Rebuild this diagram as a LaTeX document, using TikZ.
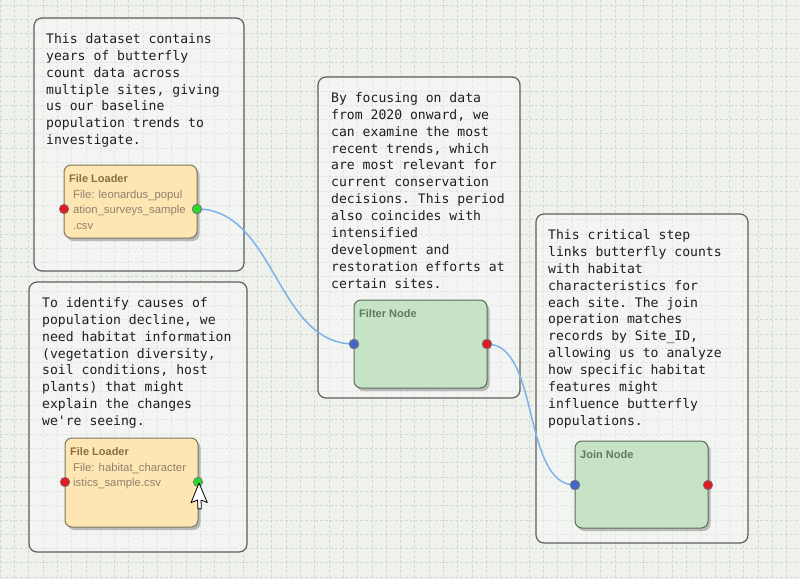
\documentclass[tikz,border=0pt]{standalone}
\usepackage{fontspec}
\setmainfont{Liberation Sans}
\newfontfamily\monof{DejaVu Sans Mono}
\usetikzlibrary{shadows}
\definecolor{bgc}{HTML}{EEF1EC}
\definecolor{gridc}{HTML}{D3D8D3}
\definecolor{loaderfill}{HTML}{FDE6B2}
\definecolor{loaderborder}{HTML}{7E765E}
\definecolor{loadertitle}{HTML}{8A6E45}
\definecolor{loadertext}{HTML}{8F8170}
\definecolor{procfill}{HTML}{C7E3C6}
\definecolor{procborder}{HTML}{5E6A5E}
\definecolor{proctitle}{HTML}{5F7A5E}
\definecolor{wirec}{HTML}{7DB3EA}
\definecolor{portred}{HTML}{E01B24}
\definecolor{portgreen}{HTML}{2ED52E}
\definecolor{portblue}{HTML}{4466C8}
\definecolor{notec}{HTML}{5E5E5E}
\definecolor{notetext}{HTML}{1E1E1E}
\tikzset{
  notebox/.style={draw=notec, line width=1.2pt, rounded corners=8pt, fill=white, fill opacity=0.35},
  notetxt/.style={anchor=north west, align=left, inner sep=0pt, text=notetext,
    font=\monof\fontsize{13.1}{16.95}\selectfont\frenchspacing},
  loaderbox/.style={draw=loaderborder, line width=1pt, rounded corners=7pt, fill=loaderfill,
    drop shadow={opacity=0.5, shadow xshift=2.5pt, shadow yshift=-3pt}},
  procbox/.style={draw=procborder, line width=1pt, rounded corners=7pt, fill=procfill,
    drop shadow={opacity=0.5, shadow xshift=2.5pt, shadow yshift=-3pt}},
  ltitle/.style={anchor=north west, inner sep=0pt, text=loadertitle, font=\bfseries\fontsize{11}{13}\selectfont},
  ptitle/.style={anchor=north west, inner sep=0pt, text=proctitle, font=\bfseries\fontsize{11}{13}\selectfont},
  ltext/.style={anchor=north west, align=left, inner sep=0pt, text=loadertext, font=\fontsize{11.3}{15.5}\selectfont},
  port/.style={circle, inner sep=0pt, minimum size=9.5pt, draw=black!55, line width=0.6pt},
  wire/.style={draw=wirec, line width=1.5pt},
}
\begin{document}
\begin{tikzpicture}[x=1pt,y=-1pt]
\useasboundingbox (0,0) rectangle (800,579);
\fill[bgc] (0,0) rectangle (800,579);
\begin{scope}
\clip (0,0) rectangle (800,579);
\foreach \i in {0,...,56} {
  \draw[gridc, line width=0.6pt, dash pattern=on 3pt off 2pt] (\i*14.3,0) -- (\i*14.3,579);
}
\foreach \j in {0,...,41} {
  \draw[gridc, line width=0.6pt, dash pattern=on 3pt off 2pt] (0,5+\j*14.3) -- (800,5+\j*14.3);
}
\end{scope}

% note boxes
\draw[notebox] (34,18) rectangle (244,271);
\node[notetxt] (t1) at (46,33) {This dataset contains\\years of butterfly\\count data across\\multiple sites, giving\\us our baseline\\population trends to\\investigate.};

\draw[notebox] (29,282) rectangle (247,552);
\node[notetxt] (t2) at (42,297) {To identify causes of\\population decline, we\\need habitat information\\(vegetation diversity,\\soil conditions, host\\plants) that might\\explain the changes\\we're seeing.};

\draw[notebox] (318,77) rectangle (520,398);
\node[notetxt] (t3) at (331,92) {By focusing on data\\from 2020 onward, we\\can examine the most\\recent trends, which\\are most relevant for\\current conservation\\decisions. This period\\also coincides with\\intensified\\development and\\restoration efforts at\\certain sites.};

\draw[notebox] (536,214) rectangle (748,543);
\node[notetxt] (t4) at (548,229) {This critical step\\links butterfly counts\\with habitat\\characteristics for\\each site. The join\\operation matches\\records by Site\_ID,\\allowing us to analyze\\how specific habitat\\features might\\influence butterfly\\populations.};

% node 1: File Loader
\draw[loaderbox] (64,165) rectangle (197,238);
\node[ltitle] (l1t) at (69,174) {File Loader};
\node[ltext] (l1x) at (73,190) {File: leonardus\_popul\\ation\_surveys\_sample\\.csv};

% node 2: File Loader
\draw[loaderbox] (65,438) rectangle (198,527);
\node[ltitle] (l2t) at (70,447) {File Loader};
\node[ltext] (l2x) at (73,463) {File: habitat\_character\\istics\_sample.csv};

% Filter node
\draw[procbox] (354,300) rectangle (487,388);
\node[ptitle] (ft) at (359,309) {Filter Node};

% Join node
\draw[procbox] (575,441) rectangle (708,528);
\node[ptitle] (jt) at (580,450) {Join Node};

% ports
\node[port, fill=portred]   (l1in)  at (64,209) {};
\node[port, fill=portgreen] (l1out) at (197,209) {};
\node[port, fill=portred]   (l2in)  at (65,482) {};
\node[port, fill=portgreen] (l2out) at (198,482) {};
\node[port, fill=portblue]  (fin)   at (354,344) {};
\node[port, fill=portred]   (fout)  at (487,344) {};
\node[port, fill=portblue]  (jin)   at (575,485) {};
\node[port, fill=portred]   (jout)  at (708,485) {};

% wires
\draw[wire] (l1out.center) .. controls (275,209) and (276,344) .. (fin.center);
\draw[wire] (fout.center) .. controls (540,344) and (522,485) .. (jin.center);
% redraw ports on top
\foreach \p/\c in {l1out/portgreen, fin/portblue, fout/portred, jin/portblue} {
  \fill[\c] (\p.center) circle (4.75pt);
  \draw[black!55, line width=0.6pt] (\p.center) circle (4.75pt);
}

% mouse cursor
\begin{scope}[shift={(199,483)}, rotate=-22, scale=1.25]
\draw[black, line width=0.8pt, fill=white, line join=round]
  (0,0) -- (0,17) -- (4,13) -- (7,19.5) -- (9.5,18.5) -- (6.6,12) -- (12,12) -- cycle;
\end{scope}
\end{tikzpicture}
\end{document}
